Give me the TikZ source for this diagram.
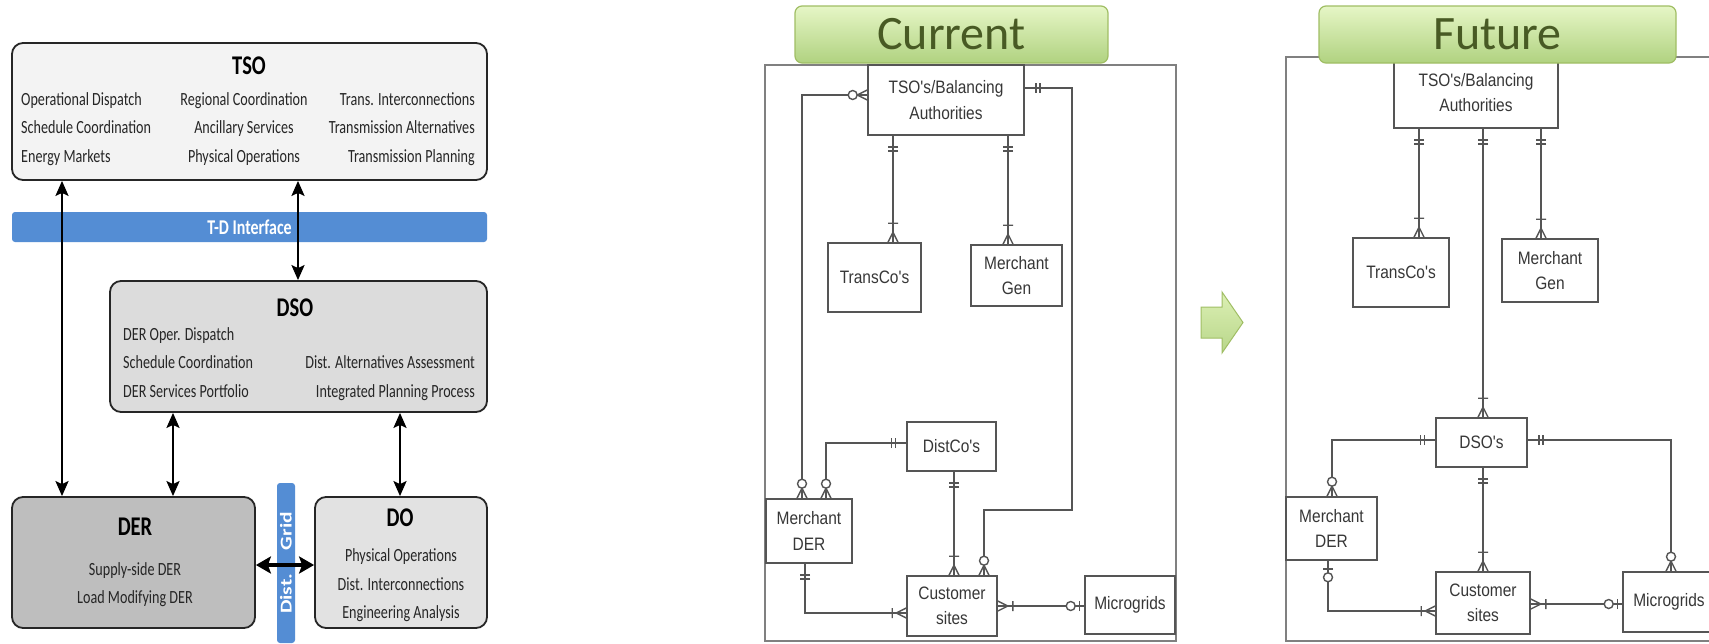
\documentclass[tikz,border=0pt]{standalone}
\usepackage{fontspec}
\usepackage{graphicx}
\usetikzlibrary{arrows.meta}
\setmainfont{Carlito}
\newfontfamily\narrowcal[FakeStretch=0.76]{Carlito}
\newfontfamily\erfont[FakeStretch=0.86]{Liberation Sans}

\definecolor{barblue}{RGB}{84,141,212}
\definecolor{tsofill}{RGB}{243,243,243}
\definecolor{dsofill}{RGB}{220,220,220}
\definecolor{derfill}{RGB}{190,190,190}
\definecolor{dofill}{RGB}{226,226,226}
\definecolor{lblborder}{RGB}{160,190,100}
\definecolor{lbltop}{RGB}{230,246,198}
\definecolor{lblbot}{RGB}{176,210,128}
\definecolor{lbltext}{RGB}{72,90,36}
\definecolor{arrowtop}{RGB}{220,240,180}
\definecolor{arrowbot}{RGB}{184,214,138}
\definecolor{erline}{RGB}{85,85,85}
\definecolor{ertext}{RGB}{55,55,55}

\tikzset{
  lbox/.style={draw=black!85, line width=1.8pt, rounded corners=11pt, inner sep=0pt},
  ltitle/.style={font=\narrowcal\bfseries\fontsize{27}{30}\selectfont, text=black, inner sep=0pt},
  lbody/.style={font=\narrowcal\fontsize{18.6}{28.5}\selectfont, text=black!85, inner sep=0pt},
  biarrow/.style={line width=2.4pt, {Stealth[length=15pt,width=13pt,inset=3pt]}-{Stealth[length=15pt,width=13pt,inset=3pt]}},
  bigbiarrow/.style={line width=4pt, {Stealth[length=15pt,width=17pt,inset=3pt]}-{Stealth[length=15pt,width=17pt,inset=3pt]}},
  bluebar/.style={fill=barblue, rounded corners=3pt, inner sep=0pt, text=white},
  erl/.style={draw=erline, line width=1.4pt},
  erbox/.style={draw=erline, line width=1.6pt, fill=white, inner sep=0pt, align=center,
    text=ertext, font=\erfont\fontsize{18}{25.5}\selectfont},
  erframe/.style={draw=black!50, line width=1.5pt},
  lbl/.style={draw=lblborder, line width=1.2pt, rounded corners=7pt, top color=lbltop,
    bottom color=lblbot, text=lbltext, font=\fontsize{48}{50}\selectfont, inner sep=0pt},
  % crow's-foot notation, drawn outward along +x from the box edge
  pics/erexone/.style={code={\draw[erl] (11,-5) -- (11,5) (15,-5) -- (15,5);}},
  pics/eronemany/.style={code={\draw[erl] (#1,-5) -- (#1,5) (10,0) -- (0,-5) (10,0) -- (0,5);}},
  pics/eronemany/.default=19,
  pics/erzeromany/.style={code={\draw[erl] (10,0) -- (0,-5) (10,0) -- (0,5);
    \draw[erl, fill=white] (14.5,0) circle (4.5pt);}},
  pics/erzeroone/.style={code={\draw[erl] (#1,-5) -- (#1,5);
    \draw[erl, fill=white] ({#1+8.5},0) circle (4.5pt);}},
  pics/erzeroone/.default=5,
}

\begin{document}
\begin{tikzpicture}[x=1pt, y=-1pt]
\useasboundingbox (0,0) rectangle (1709,643);
\clip (0,0) rectangle (1709,643);
\fill[white] (0,0) rectangle (1709,643);

% ---------------- role model: TSO / DSO / DER / DO ----------------
\node[lbox, fill=tsofill, minimum width=475pt, minimum height=137pt] (tsob) at (249.5,111.5) {};
\node[ltitle] (tsot) at (249,66) {TSO};
\node[lbody, anchor=west, align=left] (tsoa) at (21,129) {Operational Dispatch\\Schedule Coordination\\Energy Markets};
\node[lbody, align=center] (tsoc) at (244,129) {Regional Coordination\\Ancillary Services\\Physical Operations};
\node[lbody, anchor=east, align=right] (tsod) at (475,129) {Trans. Interconnections\\Transmission Alternatives\\Transmission Planning};

\node[bluebar, minimum width=475pt, minimum height=30pt, font=\narrowcal\bfseries\fontsize{21}{24}\selectfont] (tdbar) at (249.5,227) {T-D Interface};

\node[lbox, fill=dsofill, minimum width=377pt, minimum height=131pt] (dsob) at (298.5,346.5) {};
\node[ltitle] (dsot) at (295,307.5) {DSO};
\node[lbody, anchor=west, align=left] (dsoa) at (123,362.5) {DER Oper. Dispatch\\Schedule Coordination\\DER Services Portfolio};
\node[lbody, anchor=east, align=right] (dsoc) at (475,378) {Dist. Alternatives Assessment\\Integrated Planning Process};

\node[lbox, fill=derfill, minimum width=243pt, minimum height=131pt] (derb) at (133.5,562.5) {};
\node[ltitle] (dert) at (135,527) {DER};
\node[lbody, align=center] (dera) at (135,584.5) {Supply-side DER\\Load Modifying DER};

\node[lbox, fill=dofill, minimum width=172pt, minimum height=131pt] (dob) at (401,562.5) {};
\node[ltitle] (dot) at (400,518) {DO};
\node[lbody, align=center] (doa) at (401,585.5) {Physical Operations\\Dist. Interconnections\\Engineering Analysis};

\node[bluebar, rotate=90, minimum width=160pt, minimum height=18pt, font=\bfseries\fontsize{16.5}{18}\selectfont] (gridbar) at (286,563) {\scalebox{1.3}[1]{Dist.\hspace{18pt}Grid}};

\draw[biarrow] (tsob.south -| 62,0) -- (derb.north -| 62,0);
\draw[biarrow] (tsob.south -| 298,0) -- (dsob.north -| 298,0);
\draw[biarrow] (dsob.south -| 173,0) -- (derb.north -| 173,0);
\draw[biarrow] (dsob.south -| 400,0) -- (dob.north -| 400,0);
\draw[bigbiarrow] (derb.east |- 0,565) -- (dob.west |- 0,565);

% ---------------- transition arrow ----------------
\draw[draw=lblborder, line width=1pt, top color=arrowtop, bottom color=arrowbot]
  (1201,307) -- (1222,307) -- (1222,292) -- (1243,322.5) -- (1222,353) -- (1222,338) -- (1201,338) -- cycle;

% ---------------- current structure ----------------
\draw[erframe] (765,65) rectangle (1176,641);
\node[erbox, minimum width=156pt, minimum height=70pt] (ctso) at (946,100) {TSO's/Balancing\\Authorities};
\node[erbox, minimum width=93pt, minimum height=69pt] (ctc) at (874.5,277.5) {TransCo's};
\node[erbox, minimum width=91pt, minimum height=61pt] (cmg) at (1016.5,275.5) {Merchant\\Gen};
\node[erbox, minimum width=89pt, minimum height=49pt] (cdc) at (951.5,446.5) {DistCo's};
\node[erbox, minimum width=86pt, minimum height=64pt] (cmd) at (809,531) {Merchant\\DER};
\node[erbox, minimum width=90pt, minimum height=60pt] (ccs) at (952,606) {Customer\\sites};
\node[erbox, minimum width=90pt, minimum height=58pt] (cmic) at (1130,605) {Microgrids};

\draw[erl] (ctso.west |- 0,95) -| (802,0 |- cmd.north);
\draw[erl] (ctso.east |- 0,88) -| (1072,510) -| (984,0 |- ccs.north);
\draw[erl] (893,0 |- ctso.south) -- (893,0 |- ctc.north);
\draw[erl] (1008,0 |- ctso.south) -- (1008,0 |- cmg.north);
\draw[erl] (cdc.west |- 0,443) -| (826,0 |- cmd.north);
\draw[erl] (954,0 |- cdc.south) -- (954,0 |- ccs.north);
\draw[erl] (805,0 |- cmd.south) |- (ccs.west |- 0,613);
\draw[erl] (ccs.east |- 0,606) -- (cmic.west |- 0,606);

\pic[rotate=180] at (ctso.west |- 0,95) {erzeromany};
\pic[rotate=90] at (802,0 |- cmd.north) {erzeromany};
\pic at (ctso.east |- 0,88) {erexone};
\pic[rotate=90] at (984,0 |- ccs.north) {erzeromany};
\pic[rotate=-90] at (893,0 |- ctso.south) {erexone};
\pic[rotate=90] at (893,0 |- ctc.north) {eronemany};
\pic[rotate=-90] at (1008,0 |- ctso.south) {erexone};
\pic[rotate=90] at (1008,0 |- cmg.north) {eronemany};
\pic[rotate=180] at (cdc.west |- 0,443) {erexone};
\pic[rotate=90] at (826,0 |- cmd.north) {erzeromany};
\pic[rotate=-90] at (954,0 |- cdc.south) {erexone};
\pic[rotate=90] at (954,0 |- ccs.north) {eronemany};
\pic[rotate=-90] at (805,0 |- cmd.south) {erexone};
\pic[rotate=180] at (ccs.west |- 0,613) {eronemany=14};
\pic at (ccs.east |- 0,606) {eronemany=15};
\pic[rotate=180] at (cmic.west |- 0,606) {erzeroone};

\node[lbl, minimum width=313pt, minimum height=57pt] (curlbl) at (951.5,34.5) {Current};

% ---------------- future structure ----------------
\draw[erframe] (1286,57) rectangle (1740,641);
\node[erbox, minimum width=164pt, minimum height=71pt] (ftso) at (1476,92.5) {TSO's/Balancing\\Authorities};
\node[erbox, minimum width=96pt, minimum height=69pt] (ftc) at (1401,272.5) {TransCo's};
\node[erbox, minimum width=96pt, minimum height=63pt] (fmg) at (1550,270.5) {Merchant\\Gen};
\node[erbox, minimum width=91pt, minimum height=49pt] (fdso) at (1481.5,442.5) {DSO's};
\node[erbox, minimum width=91pt, minimum height=63pt] (fmd) at (1331.5,528.5) {Merchant\\DER};
\node[erbox, minimum width=94pt, minimum height=62pt] (fcs) at (1483,603) {Customer\\sites};
\node[erbox, minimum width=92pt, minimum height=60pt] (fmic) at (1669,602) {Microgrids};

\draw[erl] (1419,0 |- ftso.south) -- (1419,0 |- ftc.north);
\draw[erl] (1483,0 |- ftso.south) -- (1483,0 |- fdso.north);
\draw[erl] (1541,0 |- ftso.south) -- (1541,0 |- fmg.north);
\draw[erl] (fdso.west |- 0,440) -| (1332,0 |- fmd.north);
\draw[erl] (fdso.east |- 0,440) -| (1671,0 |- fmic.north);
\draw[erl] (1483,0 |- fdso.south) -- (1483,0 |- fcs.north);
\draw[erl] (1328,0 |- fmd.south) |- (fcs.west |- 0,611);
\draw[erl] (fcs.east |- 0,604) -- (fmic.west |- 0,604);

\pic[rotate=-90] at (1419,0 |- ftso.south) {erexone};
\pic[rotate=90] at (1419,0 |- ftc.north) {eronemany};
\pic[rotate=-90] at (1483,0 |- ftso.south) {erexone};
\pic[rotate=90] at (1483,0 |- fdso.north) {eronemany};
\pic[rotate=-90] at (1541,0 |- ftso.south) {erexone};
\pic[rotate=90] at (1541,0 |- fmg.north) {eronemany};
\pic[rotate=180] at (fdso.west |- 0,440) {erexone};
\pic[rotate=90] at (1332,0 |- fmd.north) {erzeromany};
\pic at (fdso.east |- 0,440) {erexone};
\pic[rotate=90] at (1671,0 |- fmic.north) {erzeromany};
\pic[rotate=-90] at (1483,0 |- fdso.south) {erexone};
\pic[rotate=90] at (1483,0 |- fcs.north) {eronemany};
\pic[rotate=-90] at (1328,0 |- fmd.south) {erzeroone=8};
\pic[rotate=180] at (fcs.west |- 0,611) {eronemany=14};
\pic at (fcs.east |- 0,604) {eronemany=15};
\pic[rotate=180] at (fmic.west |- 0,604) {erzeroone};

\node[lbl, minimum width=357pt, minimum height=57pt] (futlbl) at (1497.5,34.5) {Future};
\end{tikzpicture}
\end{document}
